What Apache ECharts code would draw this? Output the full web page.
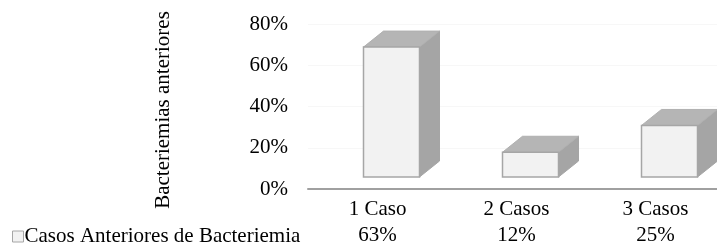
<!DOCTYPE html>
<html>
<head>
<meta charset="utf-8">
<script src="https://cdn.jsdelivr.net/npm/echarts@6/dist/echarts.min.js"></script>
<style>html,body{margin:0;padding:0;background:#fff;}#chart{width:717px;height:246px;}</style>
</head>
<body>
<div id="chart"></div>
<script>
const categories = ['1 Caso', '2 Casos', '3 Casos'];
const values = [0.63, 0.12, 0.25];
const yTicks = [0, 0.2, 0.4, 0.6, 0.8];
const seriesName = 'Casos Anteriores de Bacteriemia';
const yTitle = 'Bacteriemias anteriores';

const pct = v => Math.round(v * 100) + '%';
const FONT = 'Liberation Serif';
const FS = 21;

function renderItem(params, api) {
  const top = api.coord([api.value(0), api.value(1)]);
  const base = api.coord([api.value(0), 0]);
  const w = 56, dx = 20, dy = -16;
  const x0 = top[0] - w / 2, x1 = top[0] + w / 2;
  const yt = top[1], yb = base[1];
  return {
    type: 'group',
    children: [
      { type: 'polygon', shape: { points: [[x1, yt], [x1 + dx, yt + dy], [x1 + dx, yb + dy], [x1, yb]] },
        style: { fill: '#a5a5a5', stroke: '#a5a5a5', lineWidth: 1 } },
      { type: 'polygon', shape: { points: [[x0, yt], [x0 + dx, yt + dy], [x1 + dx, yt + dy], [x1, yt]] },
        style: { fill: '#b5b5b5', stroke: '#b0b0b0', lineWidth: 1 } },
      { type: 'rect', shape: { x: x0, y: yt, width: w, height: yb - yt },
        style: { fill: '#f2f2f2', stroke: '#a6a6a6', lineWidth: 1.5 } }
    ]
  };
}

const chart = echarts.init(document.getElementById('chart'), null, { renderer: 'canvas' });
chart.setOption({
  backgroundColor: '#ffffff',
  animation: false,
  textStyle: { fontFamily: FONT },
  legend: {
    left: 7, top: 221, icon: 'rect', itemWidth: 11, itemHeight: 11, itemGap: 4,
    textStyle: { fontFamily: FONT, fontSize: FS, color: '#000', padding: [0, 0, 0, -4] },
    data: [{ name: seriesName, itemStyle: { color: '#f2f2f2', borderColor: '#a6a6a6', borderWidth: 1 } }]
  },
  grid: [
    { left: 308, right: -8, top: 24, height: 165, outerBoundsMode: 'none', containLabel: false },
    { left: 322, right: -22, top: 12, height: 165, outerBoundsMode: 'none', containLabel: false }
  ],
  xAxis: [
    { type: 'category', gridIndex: 0, data: categories,
      axisLine: { show: true, lineStyle: { color: '#a0a0a0', width: 2 } },
      axisTick: { show: false },
      axisLabel: { fontFamily: FONT, fontSize: FS, color: '#000', margin: 7, lineHeight: 26,
        formatter: (v, i) => v + '\n' + pct(values[i]) } },
    { type: 'category', gridIndex: 1, data: categories, show: false }
  ],
  yAxis: [
    { type: 'value', gridIndex: 0, min: yTicks[0], max: yTicks[yTicks.length - 1], interval: yTicks[1] - yTicks[0],
      axisLine: { show: false }, axisTick: { show: false },
      axisLabel: { fontFamily: FONT, fontSize: FS, color: '#000', margin: 20, formatter: v => pct(v) },
      splitLine: { show: true, lineStyle: { color: '#f7f7f7', width: 1 } },
      name: yTitle, nameLocation: 'middle', nameRotate: 90, nameGap: 134,
      nameTextStyle: { fontFamily: FONT, fontSize: FS, color: '#000', padding: [0, 7, 0, 0] } },
    { type: 'value', gridIndex: 1, min: yTicks[0], max: yTicks[yTicks.length - 1], show: false }
  ],
  series: [{
    name: seriesName, type: 'custom', xAxisIndex: 1, yAxisIndex: 1,
    itemStyle: { color: '#f2f2f2' },
    renderItem: renderItem,
    data: categories.map((c, i) => [i, values[i]])
  }]
});
</script>
</body>
</html>
